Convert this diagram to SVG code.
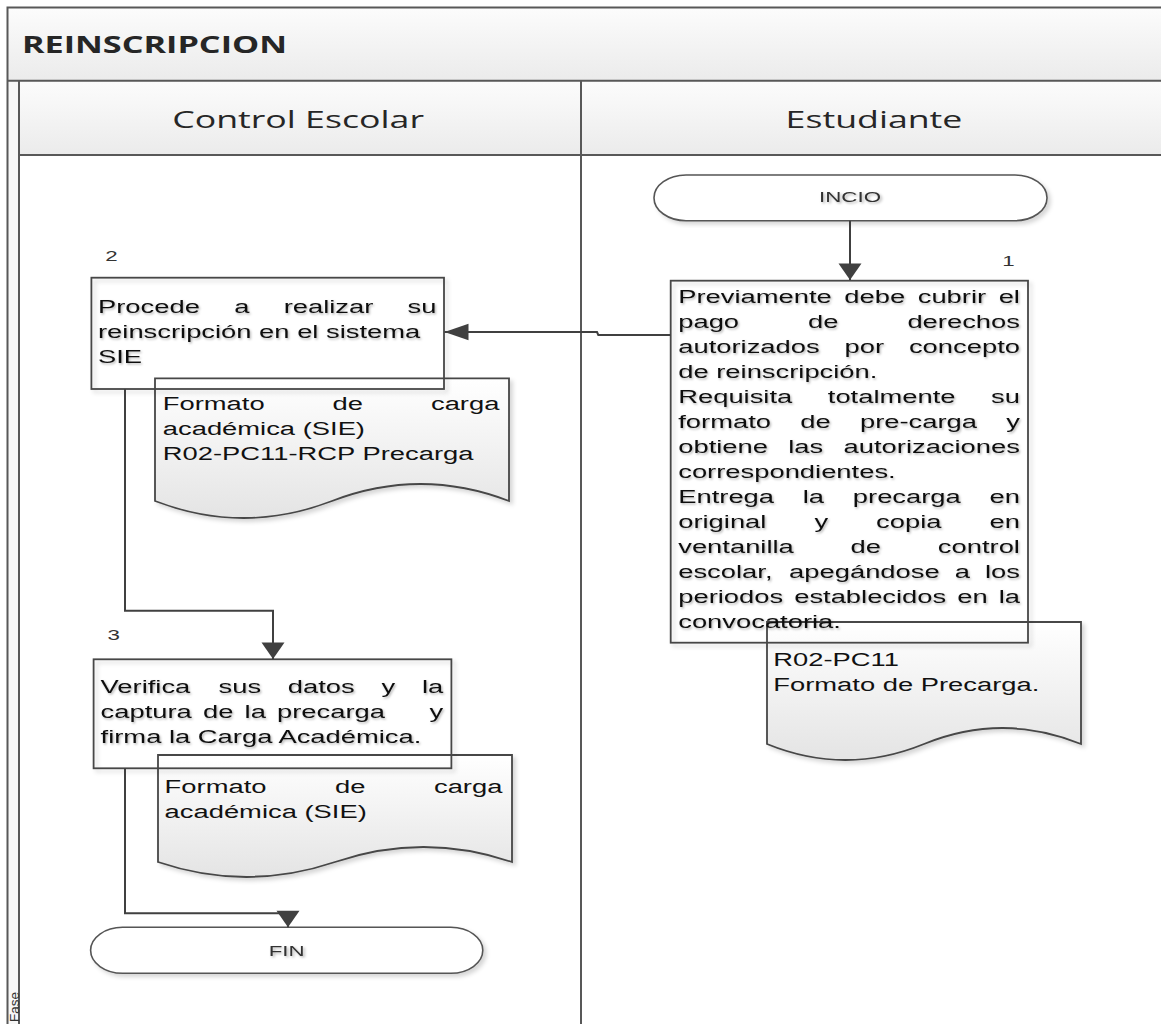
<svg xmlns="http://www.w3.org/2000/svg" width="1161" height="1024" viewBox="0 0 1161 1024">
<defs>
<style>
.pl{fill:none;stroke:#585858;stroke-width:2}
.box{fill:none;stroke:#474747;stroke-width:1.8}
.doc{fill:url(#gDoc);stroke:#474747;stroke-width:1.8}
.term{fill:#fff;stroke:#555;stroke-width:1.6}
.t{font-family:"Liberation Sans",Arial,sans-serif;font-size:19px;fill:#111}
.ts{font-family:"Liberation Sans",Arial,sans-serif;font-size:15.5px;fill:#333}
.hd{font-family:"Open Sans","Noto Sans",sans-serif;font-size:24px;fill:#262626}
.conn{fill:none;stroke:#404040;stroke-width:2}
</style>
<linearGradient id="gBand" x1="0" y1="0" x2="0" y2="1"><stop offset="0" stop-color="#fcfcfc"/><stop offset="1" stop-color="#ebebeb"/></linearGradient>
<linearGradient id="gDoc" x1="0" y1="0" x2="0" y2="1"><stop offset="0" stop-color="#ffffff"/><stop offset="1" stop-color="#e4e4e4"/></linearGradient>
<filter id="ss" x="-5%" y="-5%" width="115%" height="120%"><feDropShadow dx="3" dy="3" stdDeviation="2" flood-color="#000" flood-opacity="0.16"/></filter>
<filter id="tsh" x="-5%" y="-20%" width="115%" height="150%"><feDropShadow dx="1.2" dy="1.5" stdDeviation="1" flood-color="#000" flood-opacity="0.3"/></filter>
<marker id="arrV" markerUnits="userSpaceOnUse" orient="auto" refX="16.6" refY="0" markerWidth="20" markerHeight="24" overflow="visible"><path d="M0,-11.5 L16.6,0 L0,11.5 Z" fill="#404040"/></marker>
<marker id="arrH" markerUnits="userSpaceOnUse" orient="auto" refX="24" refY="0" markerWidth="26" markerHeight="18" overflow="visible"><path d="M0,-8.3 L24,0 L0,8.3 Z" fill="#404040"/></marker>
</defs>
<rect x="0" y="0" width="1161" height="1024" fill="#fff"/>

<g id="pool">
<rect x="7.5" y="7.5" width="1160" height="73.2" fill="url(#gBand)"/>
<rect x="19" y="80.7" width="1150" height="74.3" fill="url(#gBand)"/>
<rect x="7.5" y="80.7" width="11.5" height="950" fill="#f7f7f7"/>
<path class="pl" d="M1161,7.5 H7.5 V1024 M7.5,80.7 H1161 M19,80.7 V1024 M19,155 H1161 M581,80.7 V1024"/>
<text class="hd" x="22" y="52.7" font-weight="bold" font-size="24.5" textLength="265" lengthAdjust="spacingAndGlyphs">REINSCRIPCION</text>
<text font-family="Liberation Sans, Arial, sans-serif" font-size="13.5" fill="#333" transform="translate(18.5,1022) rotate(-90)">Fase</text>
</g>
<g id="lane-control-escolar">
<text class="hd" x="172.2" y="128.3" textLength="251.8" lengthAdjust="spacingAndGlyphs">Control Escolar</text>
</g>
<g id="lane-estudiante">
<text class="hd" x="785.6" y="128.3" textLength="176.8" lengthAdjust="spacingAndGlyphs">Estudiante</text>
</g>

<g id="inicio">
<rect class="term" filter="url(#ss)" x="654" y="175" width="393" height="45.7" rx="32" ry="22.8"/>
<text class="ts" filter="url(#tsh)" transform="scale(1.44,1)" x="590.3" y="202.5" text-anchor="middle">INCIO</text>
</g>

<g id="doc1">
<path class="doc" filter="url(#ss)" d="M767,622 H1081 V744 Q1002.5,712 924,744 T767,744 Z"/>
<text class="t" transform="scale(1.44,1)" y="666"><tspan x="537">R02-PC11</tspan><tspan x="537" y="691">Formato de Precarga.</tspan></text>
</g>

<g id="paso1">
<rect class="box" filter="url(#ss)" x="670.7" y="280.7" width="357.3" height="362"/>
<text class="ts" transform="scale(1.44,1)" x="700.3" y="266.5" text-anchor="middle" fill="#222">1</text>
<g class="t" filter="url(#tsh)">
<text transform="scale(1.44,1)" y="302.7"><tspan x="471">Previamente</tspan><tspan x="586.35">debe</tspan><tspan x="637.31">cubrir</tspan><tspan x="693.51">el</tspan></text>
<text transform="scale(1.44,1)" y="327.7"><tspan x="471">pago</tspan><tspan x="561.14">de</tspan><tspan x="630.15">derechos</tspan></text>
<text transform="scale(1.44,1)" y="352.7"><tspan x="471">autorizados</tspan><tspan x="586.48">por</tspan><tspan x="631.21">concepto</tspan></text>
<text transform="scale(1.44,1)" y="377.7" x="471">de reinscripción.</text>
<text transform="scale(1.44,1)" y="402.7"><tspan x="471">Requisita</tspan><tspan x="574.86">totalmente</tspan><tspan x="688.24">su</tspan></text>
<text transform="scale(1.44,1)" y="427.7"><tspan x="471">formato</tspan><tspan x="555.73">de</tspan><tspan x="597.18">pre-carga</tspan><tspan x="698.8">y</tspan></text>
<text transform="scale(1.44,1)" y="452.7"><tspan x="471">obtiene</tspan><tspan x="547.42">las</tspan><tspan x="585.81">autorizaciones</tspan></text>
<text transform="scale(1.44,1)" y="477.7" x="471">correspondientes.</text>
<text transform="scale(1.44,1)" y="502.7"><tspan x="471">Entrega</tspan><tspan x="557.5">la</tspan><tspan x="592.24">precarga</tspan><tspan x="687.17">en</tspan></text>
<text transform="scale(1.44,1)" y="527.7"><tspan x="471">original</tspan><tspan x="565.58">y</tspan><tspan x="608.42">copia</tspan><tspan x="687.17">en</tspan></text>
<text transform="scale(1.44,1)" y="552.7"><tspan x="471">ventanilla</tspan><tspan x="590.71">de</tspan><tspan x="651.28">control</tspan></text>
<text transform="scale(1.44,1)" y="577.7"><tspan x="471">escolar,</tspan><tspan x="547.97">apegándose</tspan><tspan x="663">a</tspan><tspan x="684.02">los</tspan></text>
<text transform="scale(1.44,1)" y="602.7"><tspan x="471">periodos</tspan><tspan x="551.51">establecidos</tspan><tspan x="664.75">en</tspan><tspan x="693.52">la</tspan></text>
<text transform="scale(1.44,1)" y="627.7" x="471">convocatoria.</text>
</g>
</g>

<g id="doc2">
<path class="doc" filter="url(#ss)" d="M155,378.3 H509 V501 Q420.5,467 332,501 T155,501 Z"/>
<g class="t">
<text transform="scale(1.44,1)" y="410"><tspan x="113.06">Formato</tspan><tspan x="230.98">de</tspan><tspan x="299.28">carga</tspan></text>
<text transform="scale(1.44,1)" y="435" x="113.06">académica (SIE)</text>
<text transform="scale(1.44,1)" y="460" x="113.06">R02-PC11-RCP Precarga</text>
</g>
</g>

<g id="paso2">
<rect class="box" filter="url(#ss)" x="91.4" y="277.7" width="352.6" height="111.3"/>
<text class="ts" transform="scale(1.44,1)" x="77.4" y="261" text-anchor="middle" fill="#222">2</text>
<g class="t" filter="url(#tsh)">
<text transform="scale(1.44,1)" y="312.7"><tspan x="68.06">Procede</tspan><tspan x="162.62">a</tspan><tspan x="196.98">realizar</tspan><tspan x="283.07">su</tspan></text>
<text transform="scale(1.44,1)" y="337.7" x="68.06">reinscripción en el sistema</text>
<text transform="scale(1.44,1)" y="362.7" x="68.06">SIE</text>
</g>
</g>

<g id="doc3">
<path class="doc" filter="url(#ss)" d="M158,755 H512 V862 Q423.5,832 335,862 T158,862 Z"/>
<g class="t">
<text transform="scale(1.44,1)" y="792.7"><tspan x="114.31">Formato</tspan><tspan x="232.65">de</tspan><tspan x="301.38">carga</tspan></text>
<text transform="scale(1.44,1)" y="817.7" x="114.31">académica (SIE)</text>
</g>
</g>

<g id="paso3">
<rect class="box" filter="url(#ss)" x="93.6" y="659.3" width="357.8" height="109"/>
<text class="ts" transform="scale(1.44,1)" x="79" y="640.5" text-anchor="middle" fill="#222">3</text>
<g class="t" filter="url(#tsh)">
<text transform="scale(1.44,1)" y="693.3"><tspan x="69.86">Verifica</tspan><tspan x="151.77">sus</tspan><tspan x="199.89">datos</tspan><tspan x="264.92">y</tspan><tspan x="293.02">la</tspan></text>
<text transform="scale(1.44,1)" y="718.3"><tspan x="69.86">captura</tspan><tspan x="140.97">de</tspan><tspan x="169.84">la</tspan><tspan x="192.36">precarga</tspan><tspan x="298.3">y</tspan></text>
<text transform="scale(1.44,1)" y="743.3" x="69.86">firma la Carga Académica.</text>
</g>
</g>

<g id="fin">
<rect class="term" filter="url(#ss)" x="90.6" y="927.3" width="392.2" height="46" rx="32" ry="23"/>
<text class="ts" filter="url(#tsh)" font-size="15" transform="scale(1.44,1)" x="199.1" y="956" text-anchor="middle">FIN</text>
</g>

<g id="connectors">
<path class="conn" d="M850,220.7 V280" marker-end="url(#arrV)"/>
<path class="conn" d="M670.7,335 H598.3 L597,332 H444.5" marker-end="url(#arrH)"/>
<path class="conn" d="M125,389 V610.7 H273 V659" marker-end="url(#arrV)"/>
<path class="conn" d="M125,768.3 V913.3 H288 V927.3" marker-end="url(#arrV)"/>
</g>
</svg>
